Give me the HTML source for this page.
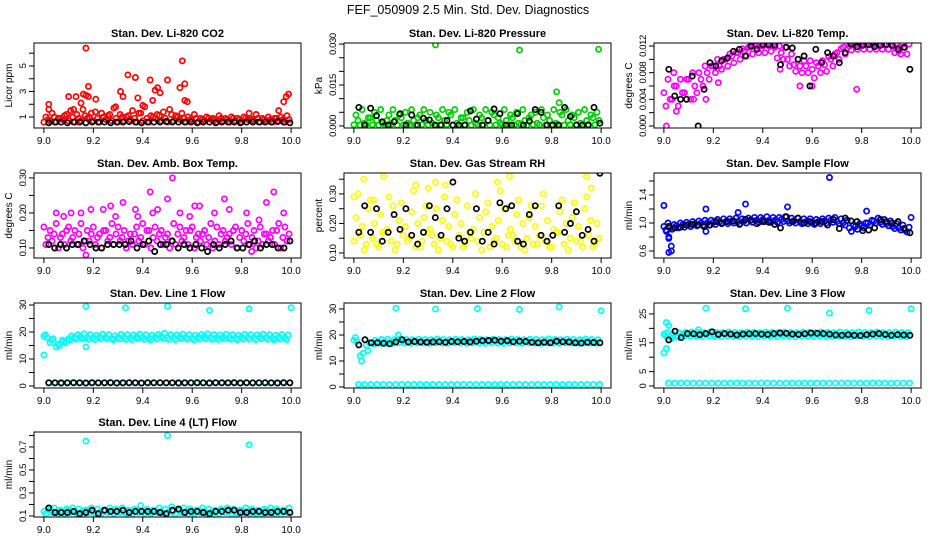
<!DOCTYPE html>
<html><head><meta charset="utf-8"><style>
html,body{margin:0;padding:0;background:#fff;}
svg{display:block;font-family:"Liberation Sans",sans-serif;}
</style></head><body>
<svg id="chart" width="936" height="540" viewBox="0 0 936 540">
<text x="468" y="14" text-anchor="middle" font-size="12.5">FEF_050909  2.5 Min. Std. Dev. Diagnostics</text>
</svg>
<script>
// ---- data ----
const xTicks = [9.0, 9.2, 9.4, 9.6, 9.8, 10.0];
const xTickLabels = ["9.0", "9.2", "9.4", "9.6", "9.8", "10.0"];

// Panel 1: CO2 (red)
const co2BandA = [0.6,0.7,0.6,0.8,0.7,0.6,0.7,0.9,0.7,0.6,0.8,0.7,0.6,0.7,0.8,0.6,0.7,0.6,0.9,0.7,0.6,0.7,0.8,0.6,0.7,0.6,0.7,0.8,0.6,0.7,0.6,0.7,0.6,0.8,0.7,0.6,0.7,0.6,0.7,0.6];
const co2BandB = [1.0,1.3,0.9,1.1,1.5,1.2,1.6,1.0,1.4,1.3,1.1,1.7,1.2,1.0,1.5,1.3,1.8,1.1,1.2,1.4,1.6,1.1,1.3,1.0,1.2,0.9,1.0,0.9,1.1,0.9,1.0,0.9,1.0,0.9,1.2,0.9,1.0,0.9,1.0,1.1];
const co2BandC = [0.8,1.0,0.9,1.2,1.0,0.9,1.1,1.3,0.9,1.0,1.2,0.9,1.0,1.1,0.9,1.3,0.9,1.0,1.1,0.9,1.2,1.0,0.9,0.8,0.9,0.8,0.9,0.8,0.9,0.8,0.9,0.8,0.9,0.8,0.9,0.8,0.8,0.9,0.8,0.8];
const co2OutX = [9.17,9.56,9.34,9.37,9.43,9.50,9.55,9.57,9.18,9.31,9.45,9.46,9.47,9.17,9.16,9.10,9.13,9.18,9.21,9.38,9.32,9.99,9.98,9.97,9.02,9.02,9.95,9.57,9.58,9.44,9.15,9.12,9.29,9.40,9.83];
const co2OutY = [6.4,5.4,4.3,4.1,3.9,3.9,3.3,3.6,3.4,3.0,3.1,3.3,2.9,2.7,2.8,2.6,2.6,2.6,2.4,2.5,2.6,2.8,2.6,2.2,2.0,1.6,1.5,2.3,2.2,2.3,2.1,1.6,1.8,1.9,1.3];
const co2Black = [0.55,0.6,0.6,0.55,0.6,0.6,0.55,0.6,0.6,0.6,0.55,0.6,0.6,0.65,0.6,0.55,0.6,0.6,0.6,0.65,0.6,0.6,0.6,0.6,0.55,0.6,0.6,0.55,0.6,0.6,0.6,0.55,0.6,0.6,0.6,0.6,0.6,0.65,0.6,0.55];

// Panel 2: Pressure (green)
const presBandA = [0.0004,0.0003,0.0005,0.0004,0.0003,0.0004,0.0005,0.0003,0.0004,0.0004,0.0003,0.0005,0.0004,0.0003,0.0004,0.0005,0.0003,0.0004,0.0004,0.0003,0.0005,0.0004,0.0003,0.0004,0.0005,0.0003,0.0004,0.0004,0.0003,0.0005,0.0004,0.0003,0.0004,0.0005,0.0003,0.0004,0.0004,0.0003,0.0005,0.0004];
const presBandB = [0.004,0.006,0.003,0.005,0.006,0.002,0.006,0.004,0.005,0.006,0.003,0.006,0.005,0.004,0.006,0.005,0.006,0.003,0.005,0.006,0.004,0.006,0.005,0.003,0.006,0.004,0.005,0.006,0.003,0.005,0.006,0.004,0.006,0.005,0.006,0.004,0.005,0.006,0.004,0.005];
const presBandC = [0.002,0.001,0.003,0.002,0.001,0.004,0.002,0.003,0.001,0.002,0.004,0.002,0.001,0.003,0.002,0.004,0.001,0.003,0.002,0.001,0.003,0.002,0.004,0.001,0.002,0.003,0.001,0.002,0.004,0.001,0.003,0.002,0.001,0.004,0.002,0.003,0.001,0.002,0.003,0.002];
const presOutX = [9.33,9.67,9.99,9.82,9.83];
const presOutY = [0.0297,0.0278,0.0281,0.0125,0.0085];
const presBlack = [0.0068,0.0003,0.0065,0.0038,0.0015,0.0003,0.0015,0.0045,0.0003,0.0040,0.0003,0.0028,0.0022,0.0003,0.0003,0.0020,0.0003,0.0003,0.0003,0.0055,0.0025,0.0003,0.0020,0.0062,0.0045,0.0003,0.0003,0.0045,0.0003,0.0018,0.0060,0.0050,0.0003,0.0003,0.0003,0.0068,0.0035,0.0003,0.0003,0.0003,0.0068,0.0010];

// Panel 3: Li-820 Temp (magenta)
const tempBandA = [0.005,0.004,0.006,0.005,0.007,0.006,0.007,0.008,0.009,0.009,0.0100,0.0105,0.0110,0.0112,0.0118,0.0120,0.0120,0.0120,0.0118,0.0110,0.0100,0.0092,0.0090,0.0090,0.0085,0.0090,0.0092,0.0100,0.0110,0.0118,0.0120,0.0122,0.0122,0.0122,0.0122,0.0122,0.0122,0.0120,0.0118,0.0118];
const tempBandB = [0.003,0.004,0.003,0.005,0.004,0.005,0.006,0.007,0.008,0.0085,0.009,0.0095,0.0100,0.0105,0.0108,0.0110,0.0110,0.0112,0.0102,0.0100,0.0090,0.0082,0.0080,0.0080,0.0072,0.0080,0.0082,0.0090,0.0100,0.0108,0.0114,0.0115,0.0115,0.0115,0.0115,0.0115,0.0115,0.0110,0.0108,0.0108];
const tempBandC = [0.007,0.006,0.007,0.007,0.008,0.008,0.009,0.009,0.0100,0.0100,0.0108,0.0110,0.0116,0.0118,0.0123,0.0123,0.0123,0.0123,0.0120,0.0118,0.0108,0.0100,0.0098,0.0098,0.0095,0.0098,0.0104,0.0108,0.0116,0.0123,0.0123,0.0123,0.0123,0.0123,0.0123,0.0123,0.0123,0.0123,0.0123,0.0123];
const tempOutX = [9.01,9.05,9.55,9.60,9.78,9.12,9.17,9.04,9.22,9.47,9.95];
const tempOutY = [0.0,0.0022,0.006,0.006,0.0055,0.004,0.004,0.008,0.0065,0.0085,0.0112];
const tempBlack = [0.0085,0.0045,0.004,0.004,0.0075,0.0,0.0055,0.0095,0.009,0.0098,0.0102,0.0112,0.0115,0.0105,0.012,0.0115,0.0122,0.0122,0.0121,0.0092,0.0118,0.0117,0.010,0.0105,0.006,0.0115,0.0095,0.011,0.0105,0.0095,0.011,0.0123,0.0119,0.0121,0.0122,0.0119,0.0121,0.0122,0.0121,0.0115,0.0118,0.0085];

// Panel 4: Amb. Box Temp (magenta)
const ambBandA = [0.16,0.15,0.17,0.14,0.16,0.15,0.17,0.15,0.16,0.14,0.15,0.17,0.16,0.15,0.14,0.16,0.17,0.15,0.16,0.15,0.14,0.17,0.16,0.15,0.16,0.14,0.15,0.17,0.16,0.15,0.14,0.16,0.15,0.17,0.15,0.16,0.14,0.15,0.17,0.16];
const ambBandB = [0.11,0.12,0.10,0.11,0.12,0.11,0.10,0.12,0.11,0.10,0.12,0.11,0.12,0.10,0.11,0.12,0.11,0.10,0.12,0.11,0.10,0.11,0.12,0.11,0.10,0.12,0.11,0.10,0.11,0.12,0.11,0.10,0.12,0.11,0.10,0.11,0.12,0.11,0.10,0.12];
const ambBandC = [0.13,0.14,0.13,0.15,0.13,0.14,0.12,0.14,0.13,0.15,0.13,0.14,0.13,0.12,0.14,0.13,0.15,0.13,0.14,0.13,0.12,0.14,0.13,0.15,0.13,0.14,0.13,0.12,0.14,0.13,0.15,0.13,0.14,0.13,0.12,0.14,0.13,0.15,0.13,0.14];
const ambOutX = [9.52,9.43,9.93,9.50,9.73,9.90,9.32,9.24,9.19,9.05,9.11,9.15,9.27,9.37,9.44,9.46,9.55,9.61,9.63,9.75,9.82,9.97,9.08,9.38,9.17,9.84,9.29,9.69,9.59,9.87];
const ambOutY = [0.30,0.26,0.26,0.24,0.24,0.23,0.23,0.21,0.21,0.20,0.20,0.20,0.22,0.21,0.20,0.21,0.20,0.22,0.22,0.21,0.20,0.20,0.19,0.19,0.08,0.09,0.19,0.20,0.19,0.18];
const ambBlack = [0.11,0.10,0.11,0.10,0.11,0.11,0.12,0.11,0.10,0.10,0.11,0.11,0.11,0.11,0.12,0.10,0.11,0.12,0.09,0.11,0.11,0.12,0.10,0.11,0.10,0.11,0.10,0.09,0.11,0.10,0.11,0.12,0.10,0.10,0.11,0.12,0.10,0.11,0.11,0.10,0.10,0.12];

// Panel 5: Gas Stream RH (yellow)
const rhBandA = [0.14,0.16,0.13,0.15,0.12,0.17,0.14,0.13,0.16,0.15,0.12,0.14,0.17,0.13,0.15,0.14,0.12,0.16,0.13,0.15,0.14,0.17,0.12,0.15,0.13,0.16,0.14,0.12,0.15,0.13,0.16,0.14,0.12,0.17,0.13,0.15,0.14,0.12,0.16,0.13];
const rhBandB = [0.22,0.19,0.25,0.20,0.23,0.18,0.26,0.21,0.19,0.24,0.20,0.22,0.18,0.25,0.21,0.19,0.23,0.20,0.26,0.18,0.22,0.24,0.19,0.21,0.25,0.18,0.23,0.20,0.22,0.19,0.26,0.21,0.18,0.24,0.20,0.22,0.19,0.25,0.21,0.20];
const rhBandC = [0.30,0.11,0.28,0.13,0.17,0.29,0.11,0.27,0.14,0.31,0.12,0.26,0.16,0.11,0.29,0.13,0.28,0.12,0.17,0.30,0.11,0.27,0.14,0.31,0.12,0.16,0.28,0.11,0.26,0.13,0.30,0.12,0.17,0.28,0.11,0.27,0.14,0.29,0.12,0.15];
const rhOutX = [9.04,9.12,9.33,9.25,9.58,9.63,9.94,9.96,9.37,9.08,9.30,9.00];
const rhOutY = [0.35,0.36,0.34,0.33,0.34,0.36,0.36,0.32,0.33,0.28,0.32,0.29];
const rhBlack = [0.17,0.26,0.17,0.25,0.14,0.17,0.23,0.18,0.25,0.16,0.13,0.17,0.26,0.22,0.16,0.25,0.34,0.15,0.14,0.17,0.25,0.14,0.17,0.13,0.27,0.25,0.26,0.14,0.13,0.23,0.26,0.16,0.14,0.16,0.26,0.17,0.20,0.24,0.16,0.18,0.14,0.37];

// Panel 6: Sample Flow (blue)
const flowBandA = [0.95,0.93,0.96,0.97,0.98,0.99,1.00,1.00,1.01,1.02,1.02,1.03,1.02,1.03,1.04,1.04,1.05,1.04,1.04,1.05,1.03,1.03,1.02,1.02,1.01,1.02,1.03,1.04,1.02,1.00,0.93,0.95,0.96,1.00,1.03,1.01,0.99,0.95,0.93,0.90];
const flowBandB = [0.90,0.91,0.93,0.94,0.95,0.96,0.97,0.97,0.98,0.99,0.99,1.00,0.99,1.00,1.01,1.01,1.02,1.01,1.01,1.02,1.00,1.00,0.99,0.99,0.98,0.99,1.00,1.01,0.99,0.97,0.88,0.91,0.93,0.97,1.00,0.98,0.96,0.92,0.90,0.87];
const flowBandC = [1.00,0.98,1.00,1.01,1.02,1.03,1.04,1.04,1.05,1.06,1.06,1.07,1.06,1.07,1.08,1.08,1.09,1.08,1.08,1.09,1.07,1.07,1.06,1.06,1.05,1.06,1.07,1.08,1.06,1.04,0.97,0.99,1.00,1.04,1.07,1.05,1.03,0.99,0.97,0.94];
const flowOutX = [9.02,9.02,9.03,9.02,9.03,9.00,9.17,9.33,9.50,9.67,9.82,10.0,9.17,9.30,9.01];
const flowOutY = [0.80,0.78,0.67,0.58,0.60,1.25,1.20,1.27,1.23,1.65,1.17,1.08,0.88,1.15,0.88];
const flowBlack = [0.95,0.93,0.94,0.97,0.98,0.97,0.95,0.97,1.02,1.00,1.02,1.03,0.98,1.05,1.04,0.99,1.02,1.01,0.98,0.93,1.09,1.02,1.07,1.00,1.02,1.00,1.02,0.97,1.05,0.92,1.07,1.03,1.02,0.89,0.90,0.93,1.05,1.02,1.00,1.02,0.92,0.86];

// Panel 7: Line 1 Flow (cyan)
const l1BandA = [18.5,16,14.5,17,17.5,18,18.3,18,17.8,18.2,18,17.6,18.1,18,17.9,18.2,18,17.8,18.1,18.4,18,17.9,18.2,18,17.8,18.1,18.3,18,17.9,18.2,18,17.8,18.1,18,17.9,18.2,18,17.8,18.1,17.9];
const l1BandB = [19,17,15.5,16.5,17,17.4,17.6,17.3,17.2,17.5,17.4,17.1,17.4,17.3,17.2,17.5,17.3,17.1,17.4,17.7,17.3,17.2,17.5,17.3,17.1,17.4,17.6,17.3,17.2,17.5,17.3,17.1,17.4,17.3,17.2,17.5,17.3,17.1,17.4,17.2];
const l1BandC = [18,17.5,15,16,18.5,19,19.3,19,18.7,19.2,19,18.6,19.1,19,18.9,19.2,19,18.8,19.1,19.5,19,18.9,19.2,19,18.8,19.1,19.3,19,18.9,19.2,19,18.8,19.1,19,18.9,19.2,19,18.8,19.1,18.9];
const l1Low = [1.2,1.1,1.3,1.2,1.4,1.1,1.2,1.3,1.1,1.2,1.4,1.2,1.1,1.3,1.2,1.1,1.4,1.2,1.3,1.1,1.2,1.3,1.1,1.2,1.4,1.2,1.1,1.3,1.2,1.1,1.4,1.2,1.3,1.1,1.2,1.3,1.1,1.2,1.4,1.2];
const l1OutX = [9.17,9.33,9.50,9.67,9.83,10.0,9.00,9.17];
const l1OutY = [29.5,29,29.5,28,28.6,29,11.5,14.5];
const l1Black = [1.2,1.2,1.1,1.2,1.2,1.2,1.1,1.2,1.2,1.2,1.2,1.1,1.2,1.2,1.2,1.1,1.2,1.2,1.2,1.2,1.2,1.1,1.2,1.2,1.2,1.2,1.1,1.2,1.2,1.2,1.2,1.1,1.2,1.2,1.2,1.2,1.2,1.1,1.2,1.2];

// Panel 8: Line 2 Flow (cyan)
const l2BandA = [18,12,16,17,17.5,17.6,17.5,17.8,17.6,17.5,17.7,17.6,17.5,17.8,17.6,17.5,17.7,17.6,17.5,17.8,17.6,17.5,17.7,17.6,17.5,17.8,17.6,17.5,17.7,17.6,17.5,17.8,17.6,17.5,17.7,17.6,17.5,17.8,17.6,17.5];
const l2BandB = [19,10,14,16.5,16.8,16.9,16.8,17,16.9,16.8,17,16.9,16.8,17,16.9,16.8,17,16.9,16.8,17,16.9,16.8,17,16.9,16.8,17,16.9,16.8,17,16.9,16.8,17,16.9,16.8,17,16.9,16.8,17,16.9,16.8];
const l2BandC = [17.5,13,17,18,18.3,18.4,18.2,18.5,18.3,18.2,18.4,18.3,18.2,18.5,18.3,18.2,18.4,18.3,18.2,18.5,18.3,18.2,18.4,18.3,18.2,18.5,18.3,18.2,18.4,18.3,18.2,18.5,18.3,18.2,18.4,18.3,18.2,18.5,18.3,18.2];
const l2Low = [1.0,1.0,1.0,1.0,1.0,1.0,1.0,1.0,1.0,1.0,1.0,1.0,1.0,1.0,1.0,1.0,1.0,1.0,1.0,1.0,1.0,1.0,1.0,1.0,1.0,1.0,1.0,1.0,1.0,1.0,1.0,1.0,1.0,1.0,1.0,1.0,1.0,1.0,1.0,1.0];
const l2OutX = [9.17,9.33,9.50,9.67,9.83,10.0,9.18];
const l2OutY = [30.3,30,30.2,29.8,30.8,29.3,20];
const l2Black = [16.2,18.2,17,17,16.8,16.6,17.3,18.2,17.3,17.5,17.3,17.2,17.3,17.4,17.2,17.5,17.4,17.5,17.3,17.6,17.8,17.9,18,17.6,17.8,17.4,17.6,17.5,17.2,17,17.2,17,17.6,17.4,17.3,17,16.9,17.2,17.1,17];

// Panel 9: Line 3 Flow (cyan)
const l3BandA = [18,17,17.5,17.8,18,17.9,17.8,18,17.9,17.8,18,17.9,17.8,18,17.9,17.8,18,17.9,17.8,18,17.9,17.8,18,17.9,17.8,18,17.9,17.8,18,17.9,17.8,18,17.9,17.8,18,17.9,17.8,18,17.9,17.8];
const l3BandB = [17.5,16.5,17,17.2,17.3,17.2,17.1,17.3,17.2,17.1,17.3,17.2,17.1,17.3,17.2,17.1,17.3,17.2,17.1,17.3,17.2,17.1,17.3,17.2,17.1,17.3,17.2,17.1,17.3,17.2,17.1,17.3,17.2,17.1,17.3,17.2,17.1,17.3,17.2,17.1];
const l3BandC = [18.5,18,18.4,18.6,18.7,18.6,18.5,18.7,18.6,18.5,18.7,18.6,18.5,18.7,18.6,18.5,18.7,18.6,18.5,18.7,18.6,18.5,18.7,18.6,18.5,18.7,18.6,18.5,18.7,18.6,18.5,18.7,18.6,18.5,18.7,18.6,18.5,18.7,18.6,18.5];
const l3Low = [1.0,1.0,1.0,1.0,1.0,1.0,1.0,1.0,1.0,1.0,1.0,1.0,1.0,1.0,1.0,1.0,1.0,1.0,1.0,1.0,1.0,1.0,1.0,1.0,1.0,1.0,1.0,1.0,1.0,1.0,1.0,1.0,1.0,1.0,1.0,1.0,1.0,1.0,1.0,1.0];
const l3OutX = [9.17,9.33,9.50,9.67,9.83,10.0,9.00,9.01,9.01,9.02,9.14];
const l3OutY = [27,26.8,27,25.3,26.2,26.8,11.5,13,22,21,19.5];
const l3Black = [16,19,16.8,18.2,18.1,17.8,18.2,18.8,17.9,18.2,18,17.7,18,18.1,18.2,18,17.9,18.2,18.4,18.3,18,17.9,18.1,18.4,18.3,18.2,18,17.7,17.6,17.8,17.6,17.5,17.8,18,18.2,17.9,17.6,17.8,17.7,17.6];

// Panel 10: Line 4 (LT) Flow (cyan)
const l4BandA = [0.14,0.15,0.13,0.14,0.15,0.14,0.13,0.15,0.14,0.13,0.15,0.14,0.15,0.13,0.14,0.15,0.14,0.13,0.15,0.14,0.13,0.14,0.15,0.14,0.13,0.15,0.14,0.13,0.14,0.15,0.14,0.13,0.15,0.14,0.13,0.14,0.15,0.14,0.13,0.15];
const l4BandB = [0.12,0.13,0.12,0.12,0.13,0.12,0.11,0.13,0.12,0.12,0.13,0.12,0.13,0.12,0.12,0.13,0.12,0.12,0.13,0.12,0.11,0.12,0.13,0.12,0.12,0.13,0.12,0.12,0.12,0.13,0.12,0.12,0.13,0.12,0.12,0.12,0.13,0.12,0.11,0.13];
const l4BandC = [0.16,0.17,0.15,0.16,0.17,0.16,0.15,0.17,0.16,0.15,0.17,0.16,0.17,0.15,0.16,0.19,0.16,0.15,0.17,0.16,0.18,0.16,0.17,0.16,0.15,0.17,0.16,0.15,0.16,0.17,0.16,0.15,0.17,0.16,0.15,0.16,0.17,0.16,0.15,0.17];
const l4OutX = [9.17,9.50,9.83];
const l4OutY = [0.75,0.80,0.72];
const l4Black = [0.17,0.13,0.13,0.13,0.14,0.12,0.13,0.15,0.12,0.15,0.14,0.14,0.15,0.13,0.14,0.14,0.14,0.14,0.13,0.12,0.15,0.16,0.13,0.14,0.14,0.13,0.12,0.14,0.14,0.15,0.15,0.13,0.13,0.14,0.14,0.13,0.13,0.14,0.14,0.13];

// ---- panel definitions ----
const RED="#ff0000", GRN="#00cc00", MAG="#ff00ff", YEL="#ffff00", BLU="#0000ff", CYN="#00ffff", BLK="#000000";
const panels = [
 {name:"co2",col:0,row:0,title:"Stan. Dev. Li-820 CO2",ylab:"Licor ppm",y0:0.14,y1:6.8,ticks:[1,2,3,4,5,6],labs:{1:"1",3:"3",5:"5"},
  bands:[[co2BandA,RED],[co2BandB,RED],[co2BandC,RED]],out:[co2OutX,co2OutY,RED],black:co2Black},
 {name:"pressure",col:1,row:0,title:"Stan. Dev. Li-820 Pressure",ylab:"kPa",y0:-0.00076,y1:0.0304,ticks:[0,0.005,0.01,0.015,0.02,0.025,0.03],labs:{0:"0.000",0.015:"0.015",0.03:"0.030"},
  bands:[[presBandA,GRN],[presBandB,GRN],[presBandC,GRN]],out:[presOutX,presOutY,GRN],black:presBlack},
 {name:"li820-temp",col:2,row:0,title:"Stan. Dev. Li-820 Temp.",ylab:"degrees C",y0:-0.0003,y1:0.01245,ticks:[0,0.002,0.004,0.006,0.008,0.01,0.012],labs:{0:"0.000",0.004:"0.004",0.008:"0.008",0.012:"0.012"},
  bands:[[tempBandA,MAG],[tempBandB,MAG],[tempBandC,MAG]],out:[tempOutX,tempOutY,MAG],black:tempBlack},
 {name:"amb-box-temp",col:0,row:1,title:"Stan. Dev. Amb. Box Temp.",ylab:"degrees C",y0:0.0714,y1:0.314,ticks:[0.1,0.15,0.2,0.25,0.3],labs:{0.1:"0.10",0.2:"0.20",0.3:"0.30"},
  bands:[[ambBandA,MAG],[ambBandB,MAG],[ambBandC,MAG]],out:[ambOutX,ambOutY,MAG],black:ambBlack},
 {name:"gas-stream-rh",col:1,row:1,title:"Stan. Dev. Gas Stream RH",ylab:"percent",y0:0.083,y1:0.371,ticks:[0.1,0.15,0.2,0.25,0.3,0.35],labs:{0.1:"0.10",0.2:"0.20",0.3:"0.30"},
  bands:[[rhBandA,YEL],[rhBandB,YEL],[rhBandC,YEL]],out:[rhOutX,rhOutY,YEL],black:rhBlack},
 {name:"sample-flow",col:2,row:1,title:"Stan. Dev. Sample Flow",ylab:"ml/min",y0:0.5,y1:1.714,ticks:[0.6,0.8,1.0,1.2,1.4,1.6],labs:{0.6:"0.6",1:"1.0",1.4:"1.4"},
  bands:[[flowBandA,BLU],[flowBandB,BLU],[flowBandC,BLU]],out:[flowOutX,flowOutY,BLU],black:flowBlack},
 {name:"line1-flow",col:0,row:2,title:"Stan. Dev. Line 1 Flow",ylab:"ml/min",y0:-0.74,y1:30.74,ticks:[0,5,10,15,20,25,30],labs:{0:"0",10:"10",20:"20",30:"30"},
  bands:[[l1BandA,CYN],[l1BandB,CYN],[l1BandC,CYN],[l1Low,CYN]],out:[l1OutX,l1OutY,CYN],black:l1Black},
 {name:"line2-flow",col:1,row:2,title:"Stan. Dev. Line 2 Flow",ylab:"ml/min",y0:-0.38,y1:32.3,ticks:[0,5,10,15,20,25,30],labs:{0:"0",10:"10",20:"20",30:"30"},
  bands:[[l2BandA,CYN],[l2BandB,CYN],[l2BandC,CYN],[l2Low,CYN]],out:[l2OutX,l2OutY,CYN],black:l2Black},
 {name:"line3-flow",col:2,row:2,title:"Stan. Dev. Line 3 Flow",ylab:"ml/min",y0:-0.69,y1:28.8,ticks:[0,5,10,15,20,25],labs:{0:"0",5:"5",15:"15",25:"25"},
  bands:[[l3BandA,CYN],[l3BandB,CYN],[l3BandC,CYN],[l3Low,CYN]],out:[l3OutX,l3OutY,CYN],black:l3Black},
 {name:"line4-flow",col:0,row:3,title:"Stan. Dev. Line 4 (LT) Flow",ylab:"ml/min",y0:0.091,y1:0.83,ticks:[0.1,0.2,0.3,0.4,0.5,0.6,0.7,0.8],labs:{0.1:"0.1",0.3:"0.3",0.5:"0.5",0.7:"0.7"},
  bands:[[l4BandA,CYN],[l4BandB,CYN],[l4BandC,CYN]],out:[l4OutX,l4OutY,CYN],black:l4Black}
];

const NS="http://www.w3.org/2000/svg";
const svg=document.getElementById("chart");
function mk(tag,attrs,parent){const e=document.createElementNS(NS,tag);for(const k in attrs)e.setAttribute(k,attrs[k]);(parent||svg).appendChild(e);return e;}

const COL_LEFT=[34,344,654], BOX_W=267, ROW_TOP=[43,173,303,432], BOX_H=85;

panels.forEach(p=>{
  const L=COL_LEFT[p.col], T=ROW_TOP[p.row], R=L+BOX_W, B=T+BOX_H;
  const g=mk("g",{});
  
  
  const xs=v=>L+(v-8.96)/(1.08)*BOX_W;
  const ys=v=>B-(v-p.y0)/(p.y1-p.y0)*BOX_H;
  const clip="clip-"+p.name;
  const cp=mk("clipPath",{id:clip},g); mk("rect",{x:L,y:T,width:BOX_W,height:BOX_H},cp);
  const pts=mk("g",{"clip-path":"url(#"+clip+")"},g);
  
  
  const dot=(x,y,c)=>{const e=mk("circle",{cx:xs(x).toFixed(1),cy:ys(y).toFixed(1),r:2.6,fill:"none",stroke:c,"stroke-width":1.7},pts);
    
    };
  p.bands.forEach((b,k)=>{const arr=b[0],n=arr.length;
    arr.forEach((v,i)=>{const xv=9.0+(i+k/p.bands.length)/n; dot(xv,v,b[1]);});});
  p.out[0].forEach((xv,i)=>dot(xv,p.out[1][i],p.out[2]));
  const nb=p.black.length;
  p.black.forEach((v,i)=>dot(9.02+0.975*i/(nb-1),v,BLK));
  const box=mk("rect",{x:L,y:T,width:BOX_W,height:BOX_H,fill:"none",stroke:"#000","stroke-width":1},g);
  
  
  xTicks.forEach((t,i)=>{const x=xs(t);
    mk("line",{x1:x,y1:B,x2:x,y2:B+5,stroke:"#000"},g);
    const tl=mk("text",{x:x,y:B+16,"text-anchor":"middle","font-size":10},g); tl.textContent=xTickLabels[i];
    
    });
  mk("line",{x1:xs(9),y1:B,x2:xs(10),y2:B,stroke:"#000"},g);
  p.ticks.forEach(t=>{const y=ys(t);
    mk("line",{x1:L-5,y1:y,x2:L,y2:y,stroke:"#000"},g);
    const key=Object.keys(p.labs).find(k=>Math.abs(parseFloat(k)-t)<1e-9);
    if(key!==undefined){const tl=mk("text",{x:L-8,y:y,"text-anchor":"middle","font-size":9.5,"letter-spacing":"-0.4",transform:"rotate(-90 "+(L-8)+" "+y+")"},g);
      tl.textContent=p.labs[key];
      
      }});
  const yl=mk("text",{x:L-22,y:(T+B)/2,"text-anchor":"middle","font-size":10,transform:"rotate(-90 "+(L-22)+" "+((T+B)/2)+")"},g);
  yl.textContent=p.ylab;
  
  
  const tt=mk("text",{x:(L+R)/2,y:T-6,"text-anchor":"middle","font-size":11,"font-weight":"bold"},g);
  tt.textContent=p.title;
  
  
});
</script>
</body></html>
